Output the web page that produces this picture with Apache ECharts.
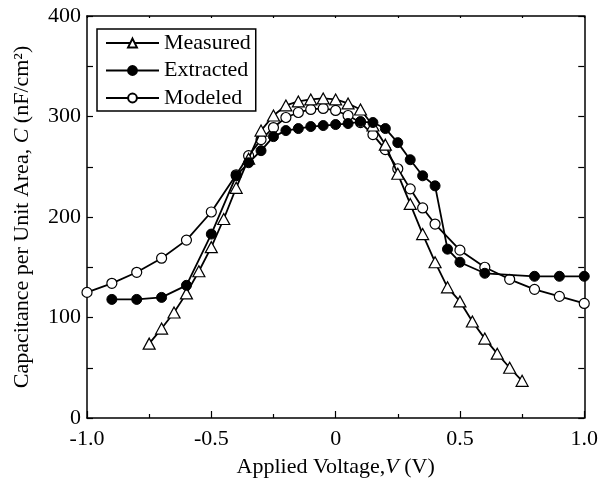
<!DOCTYPE html>
<html>
<head>
<meta charset="utf-8">
<script src="https://cdn.jsdelivr.net/npm/echarts@6/dist/echarts.min.js"></script>
<style>html,body{margin:0;padding:0;background:#fff}#c{width:601px;height:488px}</style>
</head>
<body>
<div id="c"></div>
<script>
// Data
var voltageMeasured = [-0.75,-0.70,-0.65,-0.60,-0.55,-0.50,-0.45,-0.40,-0.35,-0.30,-0.25,-0.20,-0.15,-0.10,-0.05,0,0.05,0.10,0.15,0.20,0.25,0.30,0.35,0.40,0.45,0.50,0.55,0.60,0.65,0.70,0.75];
var capMeasured = [74,89,105,124,146,170,198,229,258,286,301,311,315,317,318,317,313,307,291,272,243,213,183,155,130,116,96,79,64,50,37];

var voltageExtracted = [-0.9,-0.8,-0.7,-0.6,-0.5,-0.4,-0.35,-0.30,-0.25,-0.20,-0.15,-0.10,-0.05,0,0.05,0.10,0.15,0.20,0.25,0.30,0.35,0.40,0.45,0.50,0.60,0.80,0.90,1.0];
var capExtracted = [118,118,120,132,183,241,254,266,280,286,288,290,291,292,293,295,294,288,274,257,241,231,168,155,144,141,141,141];

var voltageModeled = [-1.0,-0.9,-0.8,-0.7,-0.6,-0.5,-0.4,-0.35,-0.30,-0.25,-0.20,-0.15,-0.10,-0.05,0,0.05,0.10,0.15,0.20,0.25,0.30,0.35,0.40,0.50,0.60,0.70,0.80,0.90,1.0];
var capModeled = [125,134,145,159,177,205,242,261,277,289,299,304,307,308,306,301,294,282,267,248,228,209,193,167,150,138,128,121,114];

var seriesNames = ['Measured','Extracted','Modeled'];
var xTickLabels = {'-1': '-1.0', '-0.5': '-0.5', '0': '0', '0.5': '0.5', '1': '1.0'};
var yTickLabels = ['0','100','200','300','400'];

function pairs(xs, ys){ return xs.map(function(x,i){ return [x, ys[i]]; }); }

var FONT = "'Liberation Serif','Times New Roman',serif";
var chart = echarts.init(document.getElementById('c'), null, {renderer:'canvas'});
chart.setOption({
  backgroundColor:'#fff',
  animation:false,
  grid:{left:87,right:15,top:16,bottom:70},
  legend:{
    orient:'vertical', left:97, top:29,
    data:seriesNames,
    itemWidth:53, itemHeight:11, itemGap:5.5,
    padding:[3,5,2,8],
    borderColor:'#000', borderWidth:1.5,
    textStyle:{fontFamily:FONT, fontSize:22, color:'#000', lineHeight:22}
  },
  xAxis:[{
    type:'value', min:-1, max:1, interval:0.5,
    name:'Applied Voltage,{i|V} (V)', nameLocation:'middle', nameGap:38,
    nameTextStyle:{fontFamily:FONT, fontSize:22, color:'#000', rich:{i:{fontFamily:FONT,fontSize:22,fontStyle:'italic',color:'#000'}}},
    axisLine:{onZero:false,lineStyle:{color:'#000',width:1.5}},
    axisTick:{inside:true,length:7,lineStyle:{color:'#000',width:1.2}},
    minorTick:{show:true,splitNumber:2,length:4,lineStyle:{color:'#000',width:1.2}},
    splitLine:{show:false},
    axisLabel:{fontFamily:FONT,fontSize:22,color:'#000',margin:10,formatter:function(v){ var k=String(Math.round(v*10)/10); return xTickLabels[k]!==undefined?xTickLabels[k]:''; }}
  },{
    type:'value', min:-1, max:1, interval:0.5, position:'top',
    axisLine:{show:true,onZero:false,lineStyle:{color:'#000',width:1.5}},
    axisTick:{inside:true,length:2,lineStyle:{color:'#000',width:1.2}},
    minorTick:{show:true,splitNumber:2,length:2,lineStyle:{color:'#000',width:1.2}},
    axisLabel:{show:false}, splitLine:{show:false}
  }],
  yAxis:[{
    type:'value', min:0, max:400, interval:100,
    name:'Capacitance per Unit Area, {i|C} (nF/cm²)', nameLocation:'middle', nameGap:54, nameRotate:90,
    nameTextStyle:{fontFamily:FONT, fontSize:22, color:'#000', rich:{i:{fontFamily:FONT,fontSize:22,fontStyle:'italic',color:'#000'}}},
    axisLine:{show:true,onZero:false,lineStyle:{color:'#000',width:1.5}},
    axisTick:{inside:true,length:6,lineStyle:{color:'#000',width:1.2}},
    minorTick:{show:true,splitNumber:2,length:6,lineStyle:{color:'#000',width:1.2}},
    splitLine:{show:false},
    axisLabel:{fontFamily:FONT,fontSize:22,color:'#000',margin:6,formatter:function(v){ return yTickLabels[Math.round(v/100)]; }}
  },{
    type:'value', min:0, max:400, interval:100, position:'right',
    axisLine:{show:true,onZero:false,lineStyle:{color:'#000',width:1.5}},
    axisTick:{inside:true,length:6,lineStyle:{color:'#000',width:1.2}},
    minorTick:{show:true,splitNumber:2,length:6,lineStyle:{color:'#000',width:1.2}},
    axisLabel:{show:false}, splitLine:{show:false}
  }],
  series:[
    {name:seriesNames[2], type:'line', data:pairs(voltageModeled,capModeled), symbol:'circle', symbolSize:10,
     lineStyle:{color:'#000',width:1.8}, itemStyle:{color:'#fff',borderColor:'#000',borderWidth:1.2}, z:3},
    {name:seriesNames[0], type:'line', data:pairs(voltageMeasured,capMeasured), symbol:'triangle', symbolSize:[12,11],
     lineStyle:{color:'#000',width:1.8}, itemStyle:{color:'#fff',borderColor:'#000',borderWidth:1.2}, z:4},
    {name:seriesNames[1], type:'line', data:pairs(voltageExtracted,capExtracted), symbol:'circle', symbolSize:10,
     lineStyle:{color:'#000',width:1.8}, itemStyle:{color:'#000',borderColor:'#000',borderWidth:1}, z:5}
  ]
});
</script>
</body>
</html>
